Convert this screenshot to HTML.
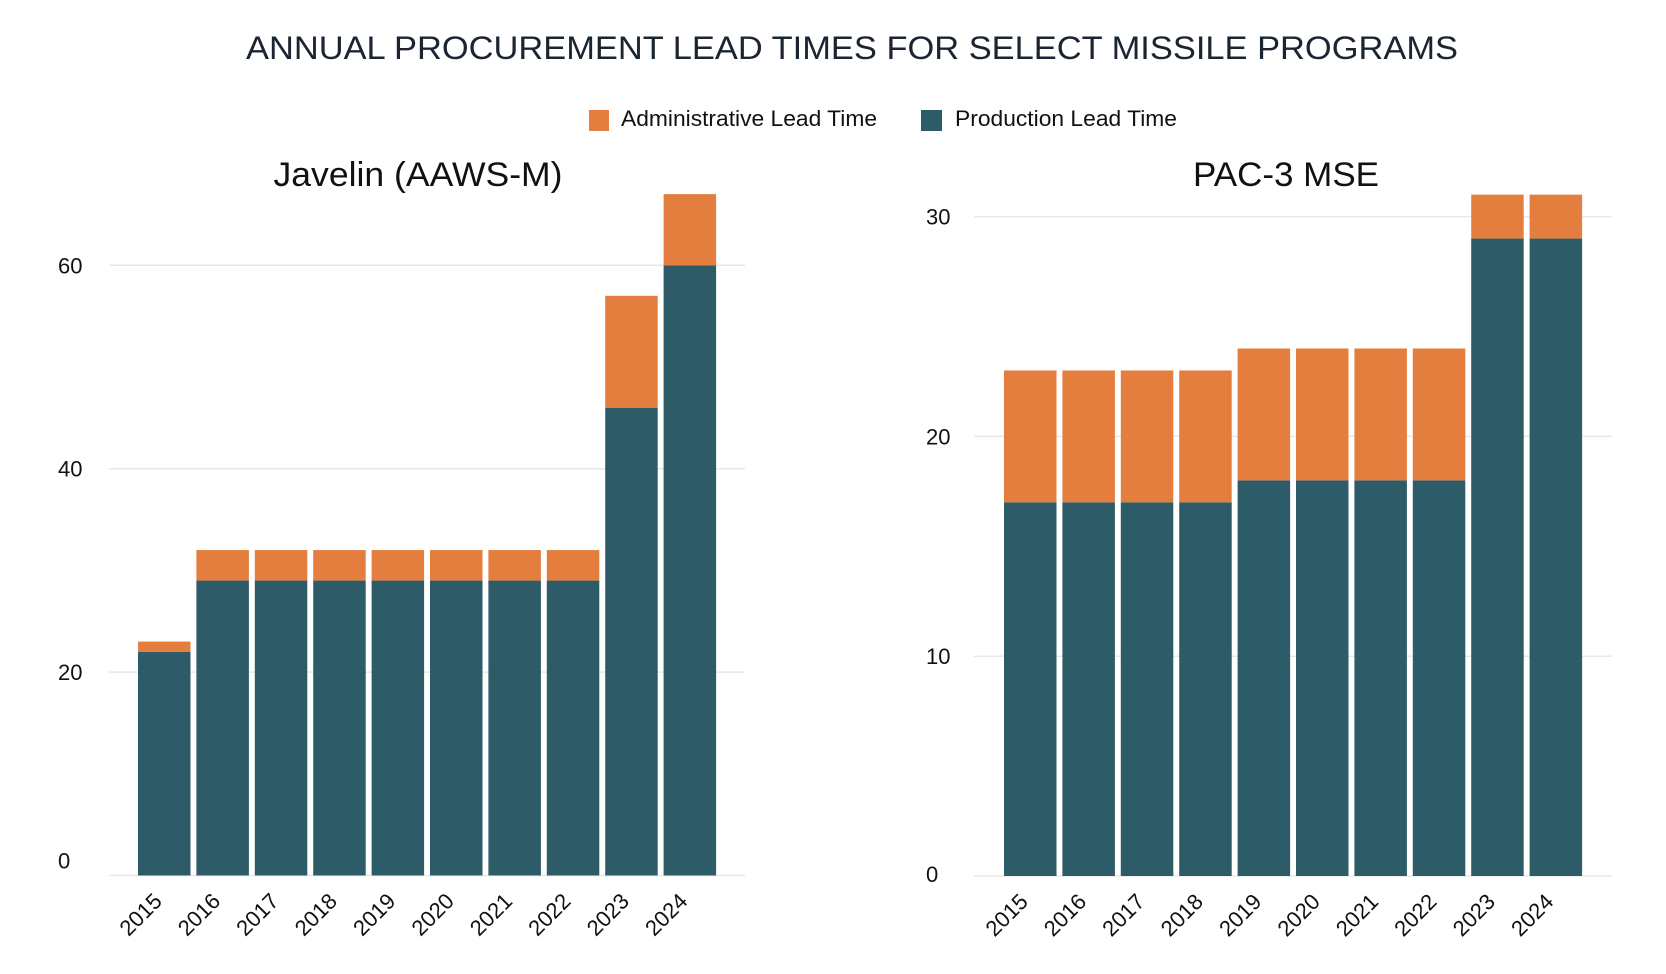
<!DOCTYPE html>
<html><head><meta charset="utf-8"><style>
html,body{margin:0;padding:0;background:#fff;}
svg{display:block;font-family:"Liberation Sans",sans-serif;}
</style></head><body>
<svg id="chart" width="1666" height="974" viewBox="0 0 1666 974">
<text x="852" y="59" text-anchor="middle" font-size="32" fill="#1b2431" textLength="1212" lengthAdjust="spacingAndGlyphs">ANNUAL PROCUREMENT LEAD TIMES FOR SELECT MISSILE PROGRAMS</text>
<g>
<rect x="589" y="110" width="20" height="21" fill="#e47e3f"/>
<text x="621" y="126" font-size="22" fill="#111" textLength="256" lengthAdjust="spacingAndGlyphs">Administrative Lead Time</text>
<rect x="921" y="110" width="21" height="21" fill="#2d5b67"/>
<text x="955" y="126" font-size="22" fill="#111" textLength="222" lengthAdjust="spacingAndGlyphs">Production Lead Time</text>
</g>
<g id="p1"></g>
<g id="p2"></g>
</svg>
<script>
const years = ["2015","2016","2017","2018","2019","2020","2021","2022","2023","2024"];
const javelinProduction = [22,29,29,29,29,29,29,29,46,60];
const javelinTotal = [23,32,32,32,32,32,32,32,57,67];
const javelinTicks = [0,20,40,60];
const pacProduction = [17,17,17,17,18,18,18,18,29,29];
const pacTotal = [23,23,23,23,24,24,24,24,31,31];
const pacTicks = [0,10,20,30];

const NS="http://www.w3.org/2000/svg";
function mk(parent,tag,attrs){const e=document.createElementNS(NS,tag);for(const k in attrs)e.setAttribute(k,attrs[k]);parent.appendChild(e);return e;}

function panel(gid,title,titleX,titleLen,prod,total,ticks,cfg){
  const g=document.getElementById(gid);
  const y=v=>cfg.y0-v*cfg.ppu;
  const x=i=>cfg.x0+i*cfg.pitch;
  const t=mk(g,'text',{x:titleX,y:186,'text-anchor':'middle','font-size':34,fill:'#111',textLength:titleLen,lengthAdjust:'spacingAndGlyphs'});
  t.textContent=title;
  
  
  ticks.forEach(v=>{
    const l=mk(g,'line',{x1:cfg.gx1,x2:cfg.gx2,y1:y(v),y2:y(v),stroke:'#e8e8e8','stroke-width':1.5});
    
    
    const tl=mk(g,'text',{x:cfg.lx,y:(v===0?y(v)+cfg.zoff:y(v)+8),'font-size':22,fill:'#111'});
    tl.textContent=String(v);
    
    
  });
  years.forEach((yr,i)=>{
    const b=mk(g,'rect',{x:x(i),y:y(prod[i]),width:cfg.bw,height:y(0)-y(prod[i]),fill:'#2d5b67'});
    
    
    const a=mk(g,'rect',{x:x(i),y:y(total[i]),width:cfg.bw,height:y(prod[i])-y(total[i]),fill:'#e47e3f'});
    
    
    const cx=x(i)+cfg.bw/2-1, cy=y(0)+27;
    const lab=mk(g,'text',{x:cx,y:cy,'text-anchor':'end','font-size':22,fill:'#111',transform:`rotate(-45 ${cx} ${cy})`});
    lab.textContent=yr;
    
    
  });
}
panel('p1','Javelin (AAWS-M)',418,289,javelinProduction,javelinTotal,javelinTicks,
  {y0:875.5,ppu:10.17,x0:138,pitch:58.4,bw:52.5,gx1:109,gx2:745,lx:58,zoff:-7});
panel('p2','PAC-3 MSE',1286,186,pacProduction,pacTotal,pacTicks,
  {y0:876,ppu:21.98,x0:1004,pitch:58.4,bw:52.5,gx1:974,gx2:1612,lx:926,zoff:6});
</script>
</body></html>
